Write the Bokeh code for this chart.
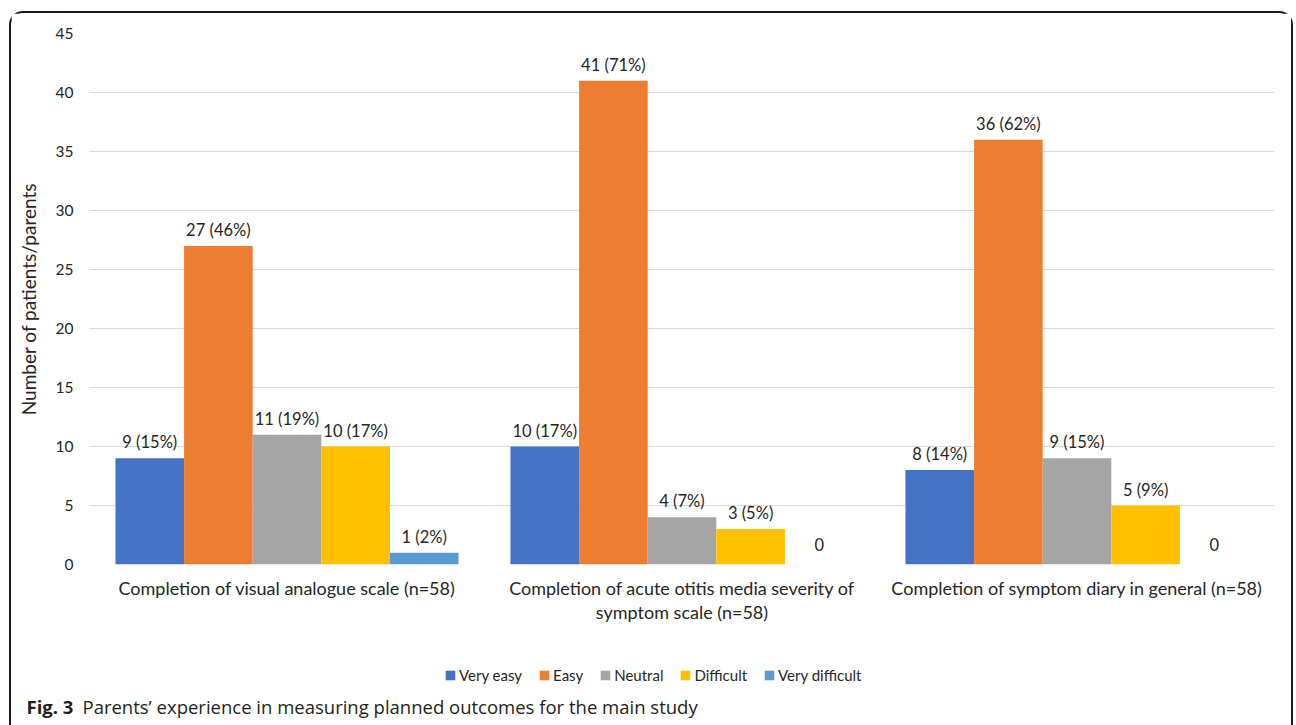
from bokeh.plotting import figure
from bokeh.models import (FactorRange, Range1d, Legend, LegendItem, ColumnDataSource,
                          Label, SingleIntervalTicker)
from bokeh.transform import dodge
from bokeh.core.properties import value
from bokeh.embed import file_html
from bokeh.resources import INLINE

categories = [
    "Completion of visual analogue scale (n=58)",
    "Completion of acute otitis media severity of symptom scale (n=58)",
    "Completion of symptom diary in general (n=58)",
]
category_labels = [
    "Completion of visual analogue scale (n=58)",
    "Completion of acute otitis media severity of\nsymptom scale (n=58)",
    "Completion of symptom diary in general (n=58)",
]
series = ["Very easy", "Easy", "Neutral", "Difficult", "Very difficult"]
very_easy = [9, 10, 8]
easy = [27, 41, 36]
neutral = [11, 4, 9]
difficult = [10, 3, 5]
very_difficult = [1, 0, 0]
very_easy_pct = [15, 17, 14]
easy_pct = [46, 71, 62]
neutral_pct = [19, 7, 15]
difficult_pct = [17, 5, 9]
very_difficult_pct = [2, 0, 0]
colors = ["#4472C4", "#ED7D31", "#A5A5A5", "#FFC000", "#5B9BD5"]
y_max = 45
caption_bold = "Fig. 3"
caption_text = "Parents’ experience in measuring planned outcomes for the main study"

values = [very_easy, easy, neutral, difficult, very_difficult]
pcts = [very_easy_pct, easy_pct, neutral_pct, difficult_pct, very_difficult_pct]

FONT = "Lato"
CAP_FONT = "Open Sans"
TXT = "#262626"
LEFT, FRAME_W, RIGHT, TOP, FRAME_H, GAP, LOWER_H = 78, 1185, 17, 20, 531, 10, 151
BORDER = "2px solid #1a1a1a"

# ---------------- main chart ----------------
p = figure(x_range=FactorRange(*categories), y_range=Range1d(0, y_max),
           frame_width=FRAME_W, frame_height=FRAME_H, output_backend="svg",
           toolbar_location=None, min_border_left=LEFT, min_border_right=RIGHT,
           min_border_top=TOP, min_border_bottom=GAP)
p.styles = {"box-sizing": "content-box", "border-top": BORDER, "border-left": BORDER,
            "border-right": BORDER, "border-radius": "14px 14px 0 0",
            "margin-left": "9px", "margin-top": "11px", "background": "white"}
p.outline_line_color = None
p.border_fill_color = "white"

bw = 0.1737
for i, (name, vals, pc, col) in enumerate(zip(series, values, pcts, colors)):
    labels = [f"{v} ({q}%)" if v > 0 else "0" for v, q in zip(vals, pc)]
    yoff = [-6 if v > 0 else -14 for v in vals]
    src = ColumnDataSource(dict(cat=categories, v=vals, lab=labels, yoff=yoff))
    off = (i - 2) * bw
    p.vbar(x=dodge("cat", off, range=p.x_range), top="v", width=bw, source=src,
           fill_color=col, line_color=None)
    p.text(x=dodge("cat", off, range=p.x_range), y="v", text="lab", source=src,
           text_align="center", text_baseline="bottom", y_offset="yoff",
           text_font=value(FONT), text_font_size="16.5px", text_color=TXT)

p.yaxis.ticker = SingleIntervalTicker(interval=5, num_minor_ticks=0)
p.yaxis.axis_line_color = None
p.yaxis.major_tick_line_color = None
p.yaxis.minor_tick_line_color = None
p.yaxis.major_label_text_font = FONT
p.yaxis.major_label_text_font_size = "15.5px"
p.yaxis.major_label_text_color = TXT
p.yaxis.major_label_standoff = 10
p.yaxis.axis_label = "Number of patients/parents"
p.yaxis.axis_label_text_font = FONT
p.yaxis.axis_label_text_font_size = "19px"
p.yaxis.axis_label_text_font_style = "normal"
p.yaxis.axis_label_text_color = TXT
p.yaxis.axis_label_standoff = 13

p.xaxis.visible = False
p.xgrid.grid_line_color = None
p.ygrid.grid_line_color = "#d9d9d9"
p.ygrid.grid_line_width = 1

# ---------------- lower band: category labels, legend, caption ----------------
total_w = LEFT + FRAME_W + RIGHT
cat_w = FRAME_W / len(categories)
cat_x = [i + 0.5 for i in range(len(categories))]
p2 = figure(x_range=Range1d(-LEFT / cat_w, len(categories) + RIGHT / cat_w),
            y_range=Range1d(LOWER_H, 0),
            frame_width=total_w, frame_height=LOWER_H, output_backend="svg",
            toolbar_location=None, min_border=0)
p2.styles = {"box-sizing": "content-box", "border-left": BORDER, "border-right": BORDER,
             "margin-left": "9px", "background": "white"}
p2.axis.visible = False
p2.grid.visible = False
p2.outline_line_color = None
p2.border_fill_color = "white"

cat_src = ColumnDataSource(dict(x=cat_x, y=[2] * len(categories), lab=category_labels))
p2.text(x="x", y="y", text="lab", source=cat_src, text_align="center",
        text_baseline="top", text_font=value(FONT), text_font_size="18px",
        text_color=TXT, text_line_height=1.1)

items = []
for name, vals, col in zip(series, values, colors):
    r = p2.vbar(x=cat_x, top=vals, width=0.1, fill_color=col, line_color=None, visible=False)
    items.append(LegendItem(label=name, renderers=[r]))
legend = Legend(items=items, orientation="horizontal", location=(433, 41),
                glyph_width=12, glyph_height=12, label_standoff=3, spacing=16,
                label_text_font=FONT, label_text_font_size="15px", label_text_color=TXT,
                border_line_color=None, background_fill_alpha=0, margin=0, padding=0,
                click_policy="none")
p2.add_layout(legend, "center")

p2.add_layout(Label(x=15, y=19, x_units="screen", y_units="screen", text=caption_bold,
                    text_baseline="alphabetic", text_font=CAP_FONT, text_font_style="bold",
                    text_font_size="18.5px", text_color="#231f20"))
p2.add_layout(Label(x=71, y=19, x_units="screen", y_units="screen", text=caption_text,
                    text_baseline="alphabetic", text_font=CAP_FONT,
                    text_font_size="18.5px", text_color="#231f20"))

open("out.html", "w").write(file_html([p, p2], INLINE))
